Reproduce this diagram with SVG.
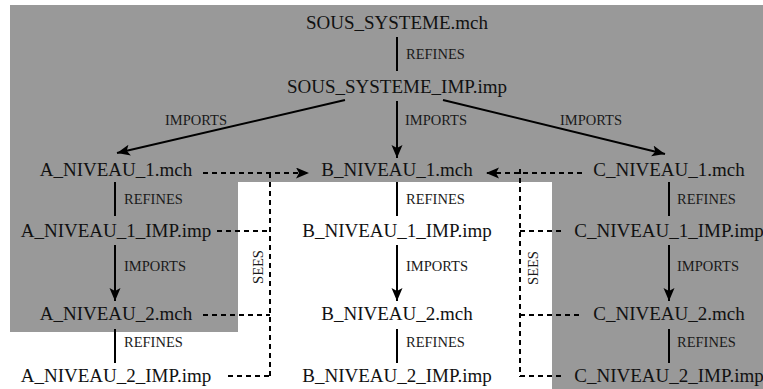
<svg xmlns="http://www.w3.org/2000/svg" width="763" height="389" viewBox="0 0 763 389">
<style>
.n{font-family:"Liberation Serif","Times New Roman",serif;font-size:19px;fill:#111;text-anchor:middle}
.l{font-family:"Liberation Serif","Times New Roman",serif;font-size:14.5px;fill:#1a1a1a}
.s{stroke:#000;stroke-width:2;fill:none}
.d{stroke:#000;stroke-width:2;fill:none;stroke-dasharray:5 4}
</style>
<defs>
<marker id="ah" markerUnits="userSpaceOnUse" markerWidth="14" markerHeight="12" refX="13" refY="5.5" orient="auto">
<path d="M0,0 L13,5.5 L0,11 L3,5.5 Z" fill="#000"/>
</marker>
</defs>
<path id="bg" d="M10,5 H763 V389 H552 V182 H238 V332 H10 Z" fill="#999999"/>
<g id="connectors">
<line class="s" x1="397" y1="37" x2="397" y2="71"/>
<line class="s" x1="345" y1="100" x2="117" y2="153" marker-end="url(#ah)"/>
<line class="s" x1="397" y1="101" x2="397" y2="158" marker-end="url(#ah)"/>
<line class="s" x1="443" y1="100" x2="665" y2="154" marker-end="url(#ah)"/>
<line class="s" x1="115" y1="182" x2="115" y2="216"/>
<line class="s" x1="397" y1="182" x2="397" y2="216"/>
<line class="s" x1="669" y1="182" x2="669" y2="216"/>
<line class="s" x1="115" y1="245" x2="115" y2="301" marker-end="url(#ah)"/>
<line class="s" x1="397" y1="245" x2="397" y2="301" marker-end="url(#ah)"/>
<line class="s" x1="669" y1="245" x2="669" y2="301" marker-end="url(#ah)"/>
<line class="s" x1="115" y1="329" x2="115" y2="363"/>
<line class="s" x1="397" y1="329" x2="397" y2="363"/>
<line class="s" x1="669" y1="329" x2="669" y2="363"/>
<line class="d" x1="203" y1="173" x2="309" y2="173" marker-end="url(#ah)"/>
<line class="d" x1="582" y1="173" x2="486" y2="173" marker-end="url(#ah)"/>
<line class="d" x1="270" y1="173" x2="270" y2="377"/>
<line class="d" x1="217" y1="231" x2="270" y2="231"/>
<line class="d" x1="203" y1="315" x2="270" y2="315"/>
<line class="d" x1="228" y1="376" x2="270" y2="376"/>
<line class="d" x1="520" y1="169" x2="520" y2="377"/>
<line class="d" x1="520" y1="231" x2="565" y2="231"/>
<line class="d" x1="520" y1="315" x2="582" y2="315"/>
<line class="d" x1="520" y1="376" x2="565" y2="376"/>
<text class="l" x="406" y="59">REFINES</text>
<text class="l" x="165" y="125">IMPORTS</text>
<text class="l" x="405" y="125">IMPORTS</text>
<text class="l" x="560" y="125">IMPORTS</text>
<text class="l" x="124" y="204">REFINES</text>
<text class="l" x="406" y="204">REFINES</text>
<text class="l" x="677" y="204">REFINES</text>
<text class="l" x="124" y="271">IMPORTS</text>
<text class="l" x="406" y="271">IMPORTS</text>
<text class="l" x="677" y="271">IMPORTS</text>
<text class="l" x="124" y="347">REFINES</text>
<text class="l" x="406" y="347">REFINES</text>
<text class="l" x="677" y="347">REFINES</text>
<text class="l" transform="translate(263,267) rotate(-90)" text-anchor="middle">SEES</text>
<text class="l" transform="translate(538,268) rotate(-90)" text-anchor="middle">SEES</text>
</g>
<g id="sous_systeme"><text class="n" x="397" y="29">SOUS_SYSTEME.mch</text></g>
<g id="sous_systeme_imp"><text class="n" x="397" y="93">SOUS_SYSTEME_IMP.imp</text></g>
<g id="a_niveau_1"><text class="n" x="116" y="176">A_NIVEAU_1.mch</text></g>
<g id="b_niveau_1"><text class="n" x="397" y="176">B_NIVEAU_1.mch</text></g>
<g id="c_niveau_1"><text class="n" x="669" y="176">C_NIVEAU_1.mch</text></g>
<g id="a_niveau_1_imp"><text class="n" x="116" y="237">A_NIVEAU_1_IMP.imp</text></g>
<g id="b_niveau_1_imp"><text class="n" x="397" y="237">B_NIVEAU_1_IMP.imp</text></g>
<g id="c_niveau_1_imp"><text class="n" x="669" y="237">C_NIVEAU_1_IMP.imp</text></g>
<g id="a_niveau_2"><text class="n" x="116" y="320">A_NIVEAU_2.mch</text></g>
<g id="b_niveau_2"><text class="n" x="397" y="320">B_NIVEAU_2.mch</text></g>
<g id="c_niveau_2"><text class="n" x="669" y="320">C_NIVEAU_2.mch</text></g>
<g id="a_niveau_2_imp"><text class="n" x="116" y="382">A_NIVEAU_2_IMP.imp</text></g>
<g id="b_niveau_2_imp"><text class="n" x="397" y="382">B_NIVEAU_2_IMP.imp</text></g>
<g id="c_niveau_2_imp"><text class="n" x="669" y="382">C_NIVEAU_2_IMP.imp</text></g>
</svg>
